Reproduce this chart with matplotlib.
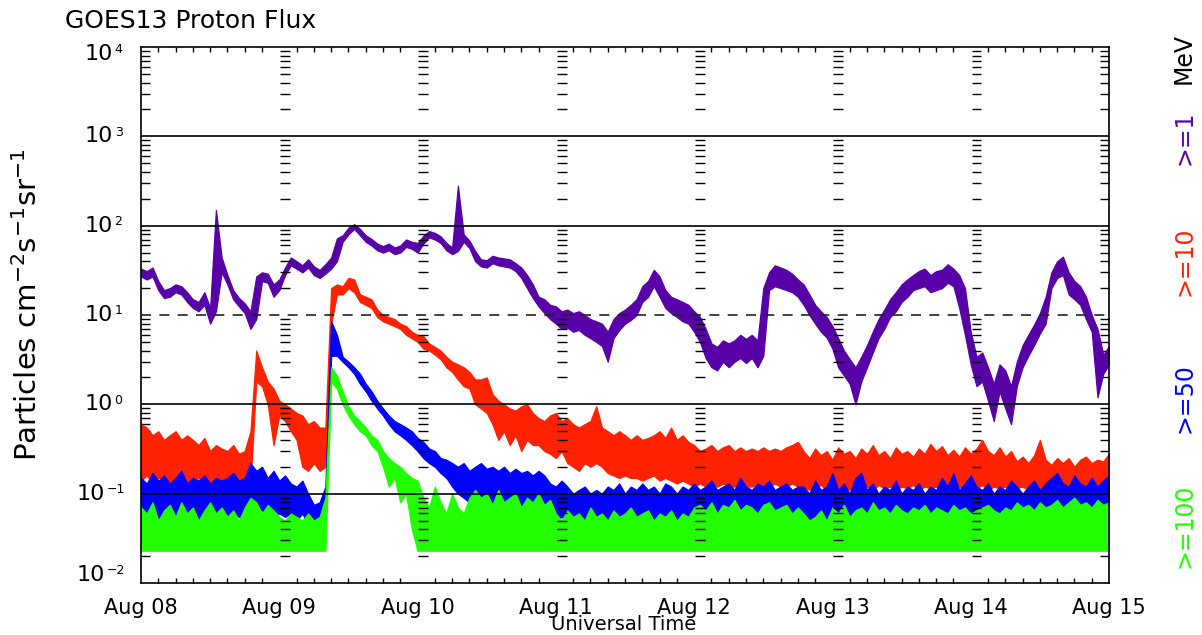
import numpy as np
import matplotlib.pyplot as plt
from matplotlib.ticker import FixedLocator, LogLocator, NullFormatter

# hours since Aug 08 00:00 UT, one reading per hour (band low / band high)
HOURS = np.arange(169)

# >=1 MeV (purple)
P_LO = [27, 25, 27, 19, 15.5, 16, 18, 17, 14, 12,
        11, 13, 8, 11, 30, 22, 15, 12.5, 10.5, 7,
        9, 24, 23, 16, 19, 28, 36, 33, 30, 34,
        28, 26, 29, 33, 40, 66, 80, 92, 78, 66,
        60, 53, 50, 53, 48, 50, 58, 55, 50, 63,
        74, 70, 64, 53, 48, 52, 66, 56, 40, 35,
        34, 38, 36, 35, 34, 31, 26, 20, 15.5, 12.5,
        10.5, 9, 8, 7, 7.2, 6.5, 6.8, 6, 5.5, 5,
        4.5, 3, 5.5, 6.8, 8, 8.8, 10, 14, 16, 21,
        16, 12, 10.5, 9.5, 8.5, 8, 6.5, 5, 3.3, 2.6,
        2.4, 3, 2.6, 3, 3.3, 2.9, 3.3, 2.6, 3.5, 19,
        21, 20, 19, 18, 16, 13, 10, 8, 6.5, 5.6,
        4.2, 2.6, 2.1, 1.7, 1.0, 1.8, 2.6, 3.8, 5.5, 7,
        9.5, 11, 14, 16, 19, 20, 21, 18, 19, 20,
        23, 21, 12, 6, 2.8, 1.6, 1.8, 1.1, 0.65, 1.4,
        0.9, 0.6, 1.6, 2.6, 3.5, 4.6, 6.2, 8, 20, 26,
        28, 17, 15, 13, 9, 6.5, 1.2, 2.2, 2.8]
P_HI = [33, 31, 34, 24, 19, 20, 22, 21, 18, 15,
        14, 18, 12, 150, 44, 28, 19, 15.5, 13.5, 11,
        27, 30, 29, 22, 25, 34, 44, 40, 36, 42,
        35, 32, 37, 44, 72, 78, 95, 104, 92, 78,
        71, 63, 59, 63, 57, 60, 70, 66, 64, 77,
        87, 83, 76, 64, 57, 280, 80, 68, 52, 42,
        41, 46, 44, 43, 42, 38, 34, 28, 22, 16,
        15, 13, 12.5, 11, 11.5, 10.5, 11, 10, 9, 8.5,
        8, 6.5, 9, 10.5, 11.5, 13, 15, 21, 24, 32,
        27, 19, 16, 15, 14, 13, 11, 9.5, 7, 4.8,
        4.4, 5.2, 4.8, 5.2, 6, 5.4, 6, 5.2, 20, 30,
        36, 34, 32, 29, 25, 22, 17, 13, 11, 9.5,
        7.5, 5.5, 4, 3.2, 2.6, 3.4, 4.6, 6.5, 9, 11.5,
        15, 18, 22, 25, 28, 31, 33, 28, 31, 32,
        37, 33, 28, 20, 6.5, 3.4, 3.8, 2.6, 1.7, 2.8,
        2.4, 1.6, 3, 4.6, 6, 7.8, 10.5, 16, 30, 40,
        45, 30, 24, 21, 16, 10, 7, 3.6, 4.5]

# >=10 MeV (red)
R_LO = [0.14, 0.16, 0.13, 0.15, 0.15, 0.13, 0.14, 0.15, 0.13, 0.14,
        0.15, 0.13, 0.12, 0.12, 0.13, 0.11, 0.12, 0.12, 0.11, 0.13,
        1.8, 1.6, 1.0, 0.35, 0.75, 0.65, 0.5, 0.4, 0.2, 0.18,
        0.22, 0.18, 0.2, 8, 17, 17, 20, 18, 14, 13,
        12, 9.5, 8.5, 8, 7.5, 7, 6, 5.5, 5, 4.2,
        4, 3.6, 3.2, 2.6, 2.3, 1.9, 1.6, 1.5, 1.0, 0.9,
        0.8, 0.6, 0.4, 0.5, 0.35, 0.45, 0.3, 0.4, 0.35, 0.35,
        0.3, 0.28, 0.25, 0.3, 0.22, 0.2, 0.18, 0.22, 0.2, 0.22,
        0.2, 0.17, 0.16, 0.15, 0.16, 0.15, 0.15, 0.14, 0.15, 0.16,
        0.14, 0.15, 0.14, 0.13, 0.14, 0.13, 0.12, 0.13, 0.12, 0.13,
        0.12, 0.13, 0.12, 0.12, 0.13, 0.12, 0.12, 0.13, 0.12, 0.12,
        0.13, 0.12, 0.12, 0.13, 0.12, 0.12, 0.11, 0.12, 0.125, 0.11,
        0.12, 0.115, 0.125, 0.11, 0.12, 0.115, 0.12, 0.11, 0.125, 0.115,
        0.12, 0.11, 0.12, 0.115, 0.125, 0.11, 0.12, 0.115, 0.12, 0.11,
        0.125, 0.115, 0.12, 0.11, 0.12, 0.115, 0.125, 0.11, 0.12, 0.115,
        0.12, 0.11, 0.115, 0.12, 0.11, 0.12, 0.115, 0.11, 0.12, 0.115,
        0.11, 0.12, 0.115, 0.11, 0.12, 0.115, 0.11, 0.12, 0.115]
R_HI = [0.6, 0.55, 0.45, 0.5, 0.4, 0.45, 0.5, 0.4, 0.45, 0.4,
        0.35, 0.42, 0.3, 0.35, 0.32, 0.3, 0.35, 0.28, 0.3, 0.5,
        4.0, 2.6, 1.8, 1.5, 1.1, 1.0, 0.9, 0.8, 0.75, 0.6,
        0.65, 0.55, 0.55, 20, 22, 21, 26, 25, 17, 16,
        15, 11.5, 10, 9.5, 9, 8, 7.5, 6.5, 6, 5.8,
        4.8, 4.4, 4, 3.4, 3, 2.8, 2.6, 2.3, 1.9, 1.9,
        2.0, 1.3, 1.1, 1.0, 0.9, 0.85, 0.95, 1.0, 0.8, 0.7,
        0.65, 0.75, 0.8, 0.65, 0.7, 0.6, 0.55, 0.6, 0.65, 0.95,
        0.55, 0.5, 0.45, 0.5, 0.45, 0.4, 0.45, 0.4, 0.42, 0.45,
        0.5, 0.42, 0.55, 0.4, 0.45, 0.38, 0.35, 0.3, 0.32, 0.35,
        0.3, 0.33, 0.35, 0.3, 0.33, 0.3, 0.32, 0.3, 0.33, 0.3,
        0.32, 0.3, 0.33, 0.35, 0.38, 0.3, 0.25, 0.32, 0.27, 0.3,
        0.24, 0.33, 0.28, 0.3, 0.25, 0.32, 0.28, 0.35, 0.27, 0.3,
        0.25, 0.33, 0.28, 0.3, 0.26, 0.32, 0.28, 0.36, 0.3, 0.34,
        0.27, 0.31, 0.26, 0.33, 0.28, 0.32, 0.4, 0.3, 0.27, 0.33,
        0.26, 0.3, 0.23, 0.26, 0.22, 0.27, 0.4, 0.24, 0.21, 0.25,
        0.22, 0.25, 0.2, 0.24, 0.26, 0.22, 0.24, 0.23, 0.28]

# >=50 MeV (blue)
B_LO = [0.055, 0.05, 0.06, 0.045, 0.05, 0.055, 0.05, 0.06, 0.05, 0.055,
        0.05, 0.05, 0.055, 0.05, 0.055, 0.05, 0.06, 0.055, 0.05, 0.06,
        0.07, 0.065, 0.06, 0.055, 0.06, 0.055, 0.06, 0.05, 0.06, 0.045,
        0.045, 0.045, 0.05, 3.5, 3.5, 3.0, 2.6, 2.2, 1.7, 1.4,
        1.1, 0.9, 0.75, 0.6, 0.5, 0.45, 0.4, 0.35, 0.3, 0.25,
        0.22, 0.2, 0.17, 0.15, 0.12, 0.1, 0.09, 0.08, 0.08, 0.085,
        0.08, 0.075, 0.08, 0.07, 0.075, 0.07, 0.07, 0.065, 0.07, 0.065,
        0.06, 0.055, 0.05, 0.055, 0.05, 0.048, 0.05, 0.048, 0.05, 0.048,
        0.05, 0.05, 0.048, 0.05, 0.048, 0.05, 0.048, 0.05, 0.05, 0.048,
        0.05, 0.048, 0.05, 0.048, 0.05, 0.048, 0.05, 0.045, 0.048, 0.045,
        0.048, 0.045, 0.048, 0.045, 0.05, 0.045, 0.048, 0.045, 0.048, 0.045,
        0.048, 0.045, 0.05, 0.045, 0.048, 0.046, 0.045, 0.048, 0.046, 0.05,
        0.046, 0.048, 0.045, 0.05, 0.046, 0.048, 0.045, 0.047, 0.05, 0.046,
        0.048, 0.045, 0.047, 0.05, 0.046, 0.048, 0.045, 0.047, 0.05, 0.046,
        0.048, 0.045, 0.047, 0.05, 0.046, 0.048, 0.045, 0.047, 0.05, 0.046,
        0.048, 0.045, 0.047, 0.05, 0.046, 0.048, 0.045, 0.047, 0.05, 0.046,
        0.048, 0.045, 0.047, 0.05, 0.046, 0.048, 0.045, 0.047, 0.05]
B_HI = [0.15, 0.13, 0.17, 0.14, 0.16, 0.13, 0.15, 0.18, 0.13, 0.15,
        0.14, 0.16, 0.13, 0.15, 0.14, 0.15, 0.17, 0.14, 0.15, 0.22,
        0.18, 0.2, 0.15, 0.18, 0.14, 0.16, 0.13, 0.12, 0.14, 0.1,
        0.075, 0.08, 0.12, 8.5, 6, 3.4, 3.0, 2.6, 2.2, 1.7,
        1.4, 1.1, 0.9, 0.75, 0.65, 0.6, 0.55, 0.5, 0.42, 0.38,
        0.32, 0.3, 0.25, 0.24, 0.22, 0.2, 0.22, 0.18, 0.2, 0.22,
        0.19, 0.2, 0.18, 0.2, 0.17, 0.19, 0.17, 0.18, 0.16, 0.18,
        0.16, 0.13, 0.12, 0.14, 0.12, 0.1, 0.11, 0.12, 0.1, 0.11,
        0.1, 0.12, 0.11, 0.13, 0.1, 0.12, 0.11, 0.13, 0.11, 0.12,
        0.1, 0.13, 0.12, 0.1, 0.12, 0.11, 0.13, 0.11, 0.12, 0.14,
        0.11, 0.12, 0.13, 0.11, 0.15, 0.12, 0.11, 0.13, 0.12, 0.14,
        0.11, 0.12, 0.13, 0.11, 0.12, 0.12, 0.1, 0.14, 0.11, 0.12,
        0.17, 0.11, 0.13, 0.1, 0.15, 0.17, 0.11, 0.13, 0.1, 0.12,
        0.11, 0.14, 0.1, 0.12, 0.11, 0.13, 0.1, 0.12, 0.11, 0.15,
        0.12, 0.17, 0.11, 0.13, 0.16, 0.12, 0.11, 0.13, 0.1, 0.12,
        0.11, 0.14, 0.12, 0.1, 0.12, 0.14, 0.11, 0.13, 0.15, 0.17,
        0.13, 0.12, 0.16, 0.13, 0.12, 0.15, 0.12, 0.14, 0.16]

# >=100 MeV (green)
G_LO = [0.023, 0.023, 0.023, 0.023, 0.023, 0.023, 0.023, 0.023, 0.023, 0.023,
        0.023, 0.023, 0.023, 0.023, 0.023, 0.023, 0.023, 0.023, 0.023, 0.023,
        0.023, 0.023, 0.023, 0.023, 0.023, 0.023, 0.023, 0.023, 0.023, 0.023,
        0.023, 0.023, 0.023, 1.8, 1.5, 1.0, 0.75, 0.6, 0.5, 0.45,
        0.35, 0.3, 0.2, 0.12, 0.15, 0.08, 0.1, 0.04, 0.023, 0.023,
        0.023, 0.023, 0.023, 0.023, 0.023, 0.023, 0.023, 0.023, 0.023, 0.023,
        0.023, 0.023, 0.023, 0.023, 0.023, 0.023, 0.023, 0.023, 0.023, 0.023,
        0.023, 0.023, 0.023, 0.023, 0.023, 0.023, 0.023, 0.023, 0.023, 0.023,
        0.023, 0.023, 0.023, 0.023, 0.023, 0.023, 0.023, 0.023, 0.023, 0.023,
        0.023, 0.023, 0.023, 0.023, 0.023, 0.023, 0.023, 0.023, 0.023, 0.023,
        0.023, 0.023, 0.023, 0.023, 0.023, 0.023, 0.023, 0.023, 0.023, 0.023,
        0.023, 0.023, 0.023, 0.023, 0.023, 0.023, 0.023, 0.023, 0.023, 0.023,
        0.023, 0.023, 0.023, 0.023, 0.023, 0.023, 0.023, 0.023, 0.023, 0.023,
        0.023, 0.023, 0.023, 0.023, 0.023, 0.023, 0.023, 0.023, 0.023, 0.023,
        0.023, 0.023, 0.023, 0.023, 0.023, 0.023, 0.023, 0.023, 0.023, 0.023,
        0.023, 0.023, 0.023, 0.023, 0.023, 0.023, 0.023, 0.023, 0.023, 0.023,
        0.023, 0.023, 0.023, 0.023, 0.023, 0.023, 0.023, 0.023, 0.023]
G_HI = [0.07, 0.06, 0.08, 0.05, 0.065, 0.075, 0.055, 0.08, 0.06, 0.07,
        0.05, 0.065, 0.08, 0.06, 0.07, 0.055, 0.065, 0.05, 0.07, 0.09,
        0.08, 0.06, 0.075, 0.065, 0.055, 0.05, 0.06, 0.055, 0.05, 0.06,
        0.05, 0.055, 0.09, 2.6, 2.1, 1.4, 0.95, 0.75, 0.65, 0.55,
        0.45, 0.4, 0.3, 0.25, 0.22, 0.2, 0.17, 0.15, 0.14, 0.09,
        0.07, 0.12, 0.08, 0.06, 0.1, 0.07, 0.06, 0.09, 0.11, 0.09,
        0.1, 0.075, 0.11, 0.08, 0.09, 0.1, 0.07, 0.09, 0.08, 0.1,
        0.075, 0.085, 0.06, 0.05, 0.065, 0.055, 0.06, 0.05, 0.07, 0.055,
        0.06, 0.05, 0.065, 0.055, 0.06, 0.07, 0.055, 0.06, 0.065, 0.05,
        0.06, 0.055, 0.065, 0.05, 0.06, 0.055, 0.07, 0.075, 0.065, 0.08,
        0.06, 0.075, 0.07, 0.085, 0.065, 0.075, 0.07, 0.06, 0.075, 0.08,
        0.065, 0.07, 0.075, 0.06, 0.07, 0.06, 0.05, 0.055, 0.065, 0.05,
        0.07, 0.06, 0.075, 0.055, 0.065, 0.07, 0.06, 0.08, 0.065, 0.07,
        0.06, 0.075, 0.065, 0.06, 0.07, 0.065, 0.075, 0.06, 0.07, 0.065,
        0.06, 0.075, 0.065, 0.07, 0.06, 0.065, 0.07, 0.075, 0.065, 0.06,
        0.07, 0.065, 0.08, 0.07, 0.075, 0.065, 0.08, 0.07, 0.075, 0.085,
        0.07, 0.08, 0.09, 0.075, 0.08, 0.07, 0.085, 0.075, 0.08]

DAY_LABELS = ["Aug 08", "Aug 09", "Aug 10", "Aug 11",
              "Aug 12", "Aug 13", "Aug 14", "Aug 15"]
DECADES = [-2, -1, 0, 1, 2, 3, 4]
SOLID_LEVELS = [1e3, 1e2, 1e0, 1e-1]
DASHED_LEVELS = [1e1]

PURPLE = "#5800a8"
RED = "#ff2200"
BLUE = "#0000ff"
GREEN = "#22ff00"

CHANNELS = [(">=1", PURPLE, 138), (">=10", RED, 261),
            (">=50", BLUE, 398), (">=100", GREEN, 526)]

W, H = 1202, 635
fig = plt.figure(figsize=(W / 100, H / 100), dpi=100)
ax = fig.add_axes([141 / W, (H - 583) / H, 968 / W, 536 / H])

series = [(P_LO, P_HI, PURPLE), (R_LO, R_HI, RED),
          (B_LO, B_HI, BLUE), (G_LO, G_HI, GREEN)]
for lo, hi, color in series:
    ax.fill_between(HOURS, lo, hi, color=color, lw=0.9, zorder=2)

ax.set_yscale("log")
ax.set_ylim(1e-2, 1e4)
ax.set_xlim(0, 168)

for v in SOLID_LEVELS:
    ax.axhline(v, color="black", lw=1.2, zorder=3)
for v in DASHED_LEVELS:
    ax.axhline(v, color="#222222", lw=1.2, ls=(0, (6, 5)), zorder=3)

# columns of minor log ticks at each day boundary
minor_vals = [m * 10.0 ** d for d in DECADES[:-1] for m in range(2, 10)]
for k in range(1, 7):
    h = 24 * k + 1
    ax.hlines(minor_vals, h - 0.85, h + 0.85, color="black", lw=1.0, zorder=3)

# x axis: day labels, 3-hour minor ticks
day_pos = [24 * k for k in range(len(DAY_LABELS))]
ax.set_xticks(day_pos)
ax.set_xticklabels(DAY_LABELS)
ax.set_xticks([h for h in range(3, 168, 3) if h % 24], minor=True)
ax.tick_params(axis="x", which="major", length=0, pad=11, labelsize=15)
ax.tick_params(axis="x", which="minor", direction="in", length=3.8,
               width=1.0, top=True, bottom=True)

# y axis: minor ticks only, labels drawn by hand
ax.yaxis.set_major_locator(FixedLocator([10.0 ** d for d in DECADES]))
ax.yaxis.set_minor_locator(LogLocator(base=10, subs=range(2, 10)))
ax.yaxis.set_minor_formatter(NullFormatter())
ax.tick_params(axis="y", which="major", length=0, labelleft=False)
ax.tick_params(axis="y", which="minor", direction="in", length=6.5,
               width=1.0, left=True, right=True)

for sp in ax.spines.values():
    sp.set_linewidth(1.2)

ytrans = ax.get_yaxis_transform()
for d in DECADES:
    exp = str(d).replace("-", "\u2212")
    dy = 0
    if d == DECADES[0]:
        dy = 6
    elif d == DECADES[-1]:
        dy = -5
    w = 6 * len(exp)
    ax.annotate("10", xy=(0, 10.0 ** d), xycoords=ytrans,
                xytext=(-14 - w, dy), textcoords="offset points",
                ha="right", va="center", fontsize=16)
    ax.annotate(exp, xy=(0, 10.0 ** d), xycoords=ytrans,
                xytext=(-13 - w, dy + 3), textcoords="offset points",
                ha="left", va="center", fontsize=9)

fig.text(65 / W, 1 - 21 / H, "GOES13 Proton Flux", fontsize=18,
         ha="left", va="center")
fig.text(28 / W, 1 - 305 / H, r"Particles cm$^{-2}$s$^{-1}$sr$^{-1}$",
         rotation=90, fontsize=21, ha="center", va="center")
fig.text(624 / W, 1 - 625 / H, "Universal Time", fontsize=14,
         ha="center", va="center")

fig.text(1184 / W, 1 - 59 / H, "MeV", rotation=90, fontsize=17,
         ha="center", va="center")
for name, color, ypix in CHANNELS:
    fig.text(1184 / W, 1 - ypix / H, name, color=color, rotation=90,
             fontsize=17, ha="center", va="center")

fig.savefig("out.png", dpi=100)
